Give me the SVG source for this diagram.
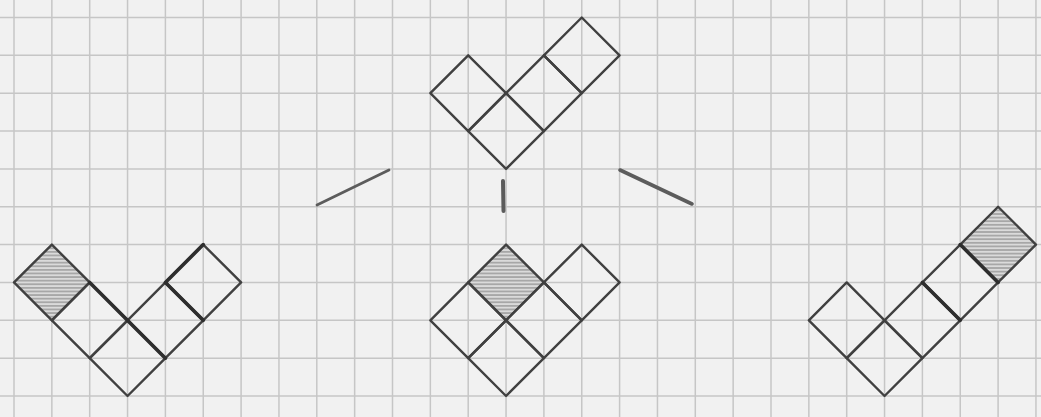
<svg xmlns="http://www.w3.org/2000/svg" xmlns:xlink="http://www.w3.org/1999/xlink" width="1041" height="417" viewBox="0 0 1041 417">
<style>
.paper{fill:#f1f1f1}
.grid{fill:none;stroke:#c6c6c6;stroke-width:1.5}
.cell{fill:none;stroke:#404040;stroke-width:2.4;stroke-linejoin:round}
.shaded{fill:url(#hatch);stroke:#404040;stroke-width:2.4;stroke-linejoin:round}
.heavy{fill:none;stroke:#2e2e2e;stroke-width:3.6;stroke-linecap:round}
.conn{fill:none;stroke:#5c5c5c;stroke-width:2.8;stroke-linecap:round}
</style>
<defs>
<pattern id="hatch" patternUnits="userSpaceOnUse" width="8" height="3.6">
<rect width="8" height="3.6" fill="#dadada"/>
<line x1="0" y1="1.8" x2="8" y2="1.8" stroke="#8e8e8e" stroke-width="1.2"/>
</pattern>
<path id="d" d="M-37.85 0L0-37.85L37.85 0L0 37.85Z"/>
</defs>
<rect class="paper" width="1041" height="417"/>
<path class="grid" d="M14 0V417M51.85 0V417M89.7 0V417M127.55 0V417M165.4 0V417M203.25 0V417M241.1 0V417M278.95 0V417M316.8 0V417M354.65 0V417M392.5 0V417M430.35 0V417M468.2 0V417M506.05 0V417M543.9 0V417M581.75 0V417M619.6 0V417M657.45 0V417M695.3 0V417M733.15 0V417M771 0V417M808.85 0V417M846.7 0V417M884.55 0V417M922.4 0V417M960.25 0V417M998.1 0V417M1035.95 0V417M0 17.5H1041M0 55.35H1041M0 93.2H1041M0 131.05H1041M0 168.9H1041M0 206.75H1041M0 244.6H1041M0 282.45H1041M0 320.3H1041M0 358.15H1041M0 396H1041"/>
<g id="connectors">
<line class="conn" x1="317" y1="205" x2="389" y2="170"/>
<line class="conn" x1="503" y1="181" x2="503.5" y2="211" style="stroke-width:4"/>
<line class="conn" x1="620" y1="170" x2="692" y2="204" style="stroke-width:3.6"/>
</g>
<g id="top-shape">
<use href="#d" class="cell" x="468.2" y="93.2"/>
<use href="#d" class="cell" x="506.05" y="131.05"/>
<use href="#d" class="cell" x="543.9" y="93.2"/>
<use href="#d" class="cell" x="581.75" y="55.35"/>
</g>
<g id="left-shape">
<use href="#d" class="shaded" x="51.85" y="282.45"/>
<use href="#d" class="cell" x="89.7" y="320.3"/>
<use href="#d" class="cell" x="127.55" y="358.15"/>
<use href="#d" class="cell" x="165.4" y="320.3"/>
<use href="#d" class="cell" x="203.25" y="282.45"/>
<path class="heavy" d="M89.7 282.45L165.4 358.15M165.4 282.45L203.25 244.6M165.4 282.45L203.25 320.3"/>
</g>
<g id="middle-shape">
<use href="#d" class="shaded" x="506.05" y="282.45"/>
<use href="#d" class="cell" x="468.2" y="320.3"/>
<use href="#d" class="cell" x="506.05" y="358.15"/>
<use href="#d" class="cell" x="543.9" y="320.3"/>
<use href="#d" class="cell" x="581.75" y="282.45"/>
</g>
<g id="right-shape">
<use href="#d" class="cell" x="846.7" y="320.3"/>
<use href="#d" class="cell" x="884.55" y="358.15"/>
<use href="#d" class="cell" x="922.4" y="320.3"/>
<use href="#d" class="cell" x="960.25" y="282.45"/>
<use href="#d" class="shaded" x="998.1" y="244.6"/>
<path class="heavy" d="M960.25 244.6L998.1 282.45M922.4 282.45L960.25 320.3"/>
</g>
</svg>
